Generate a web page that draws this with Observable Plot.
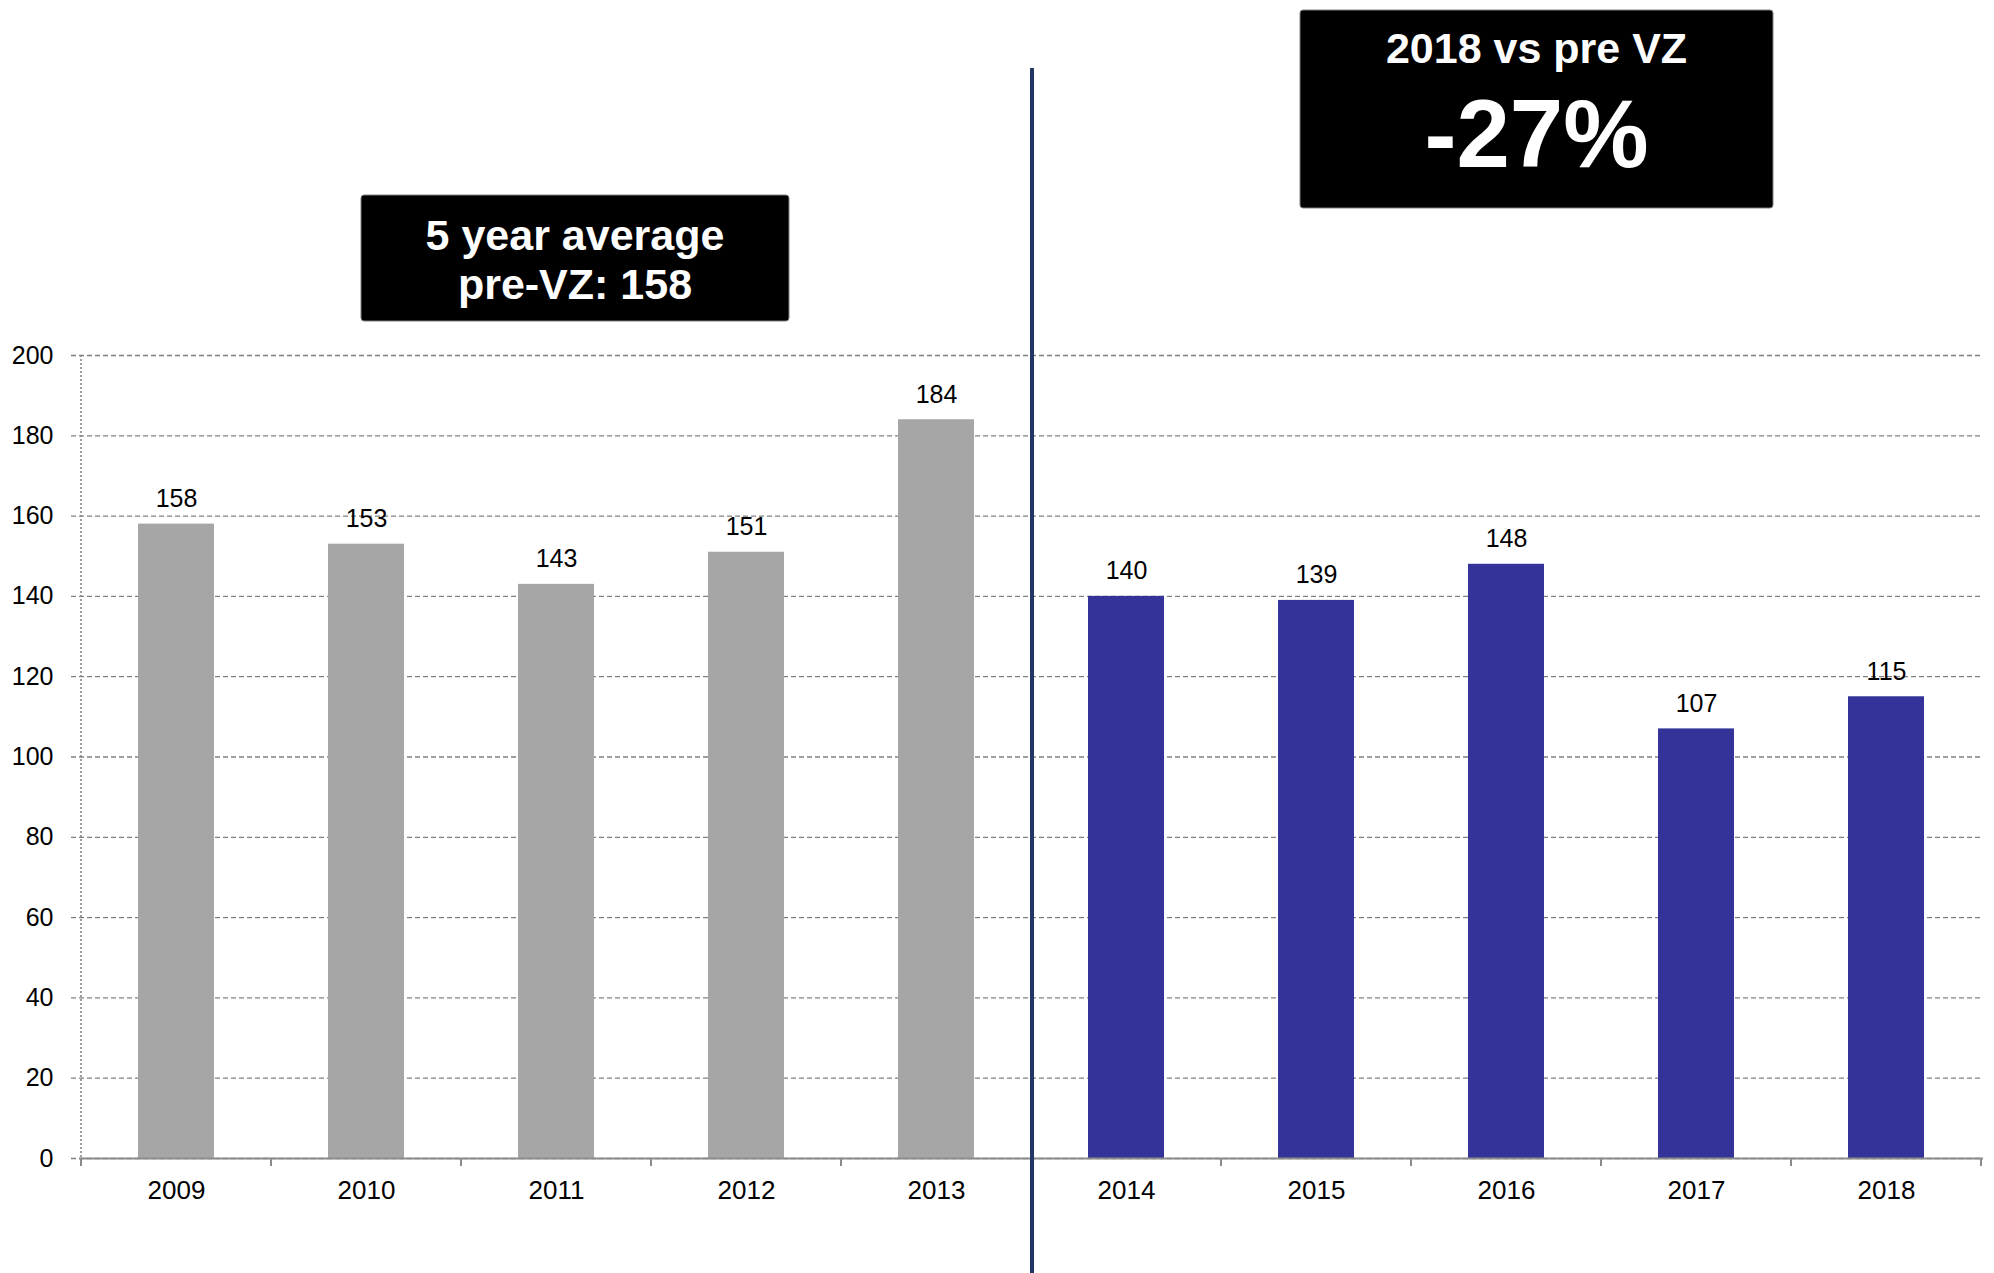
<!DOCTYPE html>
<html><head><meta charset="utf-8">
<script src="https://cdn.jsdelivr.net/npm/d3@7"></script>
<script src="https://cdn.jsdelivr.net/npm/@observablehq/plot@0.6"></script>
<style>body{margin:0;background:#fff} #chart{width:1994px;height:1273px}</style>
</head><body><div id="chart"></div>
<script>
const years = ["2009","2010","2011","2012","2013","2014","2015","2016","2017","2018"];
const values = [158,153,143,151,184,140,139,148,107,115];
const periods = ["pre","pre","pre","pre","pre","post","post","post","post","post"];
const yTicks = [0,20,40,60,80,100,120,140,160,180,200];
const boxLeftLines = ["5 year average","pre-VZ: 158"];
const boxRightLines = ["2018 vs pre VZ","-27%"];
const splitYear = "2014";

const data = years.map((y,i)=>({year:y, value:values[i], period:periods[i]}));
const FONT = "'Liberation Sans', Arial, Helvetica, sans-serif";

const plot = Plot.plot({
  width:1994, height:1273, marginLeft:79, marginRight:11, marginTop:355, marginBottom:115,
  style:{fontFamily:FONT, fontSize:"25px", color:"#000", background:"#fff"},
  x:{domain:years, padding:0, label:null},
  y:{domain:[0,200], label:null},
  color:{domain:["pre","post"], range:["#A6A6A6","#333399"]},
  marks:[
    Plot.ruleY(yTicks, {stroke:"#808080", strokeDasharray:"5,3", strokeWidth:1.3, insetLeft:-8}),
    Plot.barY(data,{x:"year", y:"value", fill:"period", insetLeft:57, insetRight:57}),
    Plot.ruleY([0], {stroke:"#8c8c8c", strokeWidth:2}),
    Plot.text(data,{x:"year", y:"value", text:d=>String(d.value), dy:-25, fontSize:25, fill:"#000"}),
    Plot.axisY({ticks:yTicks, tickSize:0, tickPadding:26, fontSize:25, label:null}),
    Plot.axisX({tickSize:0, tickPadding:22, fontSize:26, label:null})
  ]
});
document.getElementById("chart").appendChild(plot);

const svg = d3.select(plot);
const xs = plot.scale("x"), ys = plot.scale("y");
const bw = xs.bandwidth;
const y0 = ys.apply(0), yTop = ys.apply(200);
const xl = xs.apply(years[0]);
// y axis dotted line
svg.append("line").attr("x1", xl).attr("x2", xl).attr("y1", yTop).attr("y2", y0)
  .attr("stroke", "#808080").attr("stroke-width", 1.5).attr("stroke-dasharray", "2,2");
// x ticks at band boundaries
for (let i = 0; i <= years.length; i++) {
  const bx = xl + i * bw;
  svg.append("line").attr("x1", bx).attr("x2", bx).attr("y1", y0).attr("y2", y0 + 8)
    .attr("stroke", "#8c8c8c").attr("stroke-width", 2);
}
// separator line
const sx = xs.apply(splitYear) + 1;
svg.append("line").attr("x1", sx).attr("x2", sx).attr("y1", 68).attr("y2", 1273)
  .attr("stroke", "#1F3864").attr("stroke-width", 4);

function box(x0, y0b, w, h, lines, sizes, baselines) {
  const g = svg.append("g");
  g.append("rect").attr("x", x0).attr("y", y0b).attr("width", w).attr("height", h)
    .attr("rx", 3).attr("fill", "#000").attr("stroke", "#808080").attr("stroke-width", 1);
  lines.forEach((t, i) => {
    g.append("text").attr("x", x0 + w / 2).attr("y", baselines[i])
      .attr("text-anchor", "middle").attr("fill", "#fff").attr("font-weight", "bold")
      .attr("font-family", FONT).attr("font-size", sizes[i]).text(t);
  });
}
box(361, 195, 428, 126, boxLeftLines, [43, 43], [250, 299]);
box(1300, 10, 473, 198, boxRightLines, [43, 96], [63, 167]);
</script>
</body></html>
